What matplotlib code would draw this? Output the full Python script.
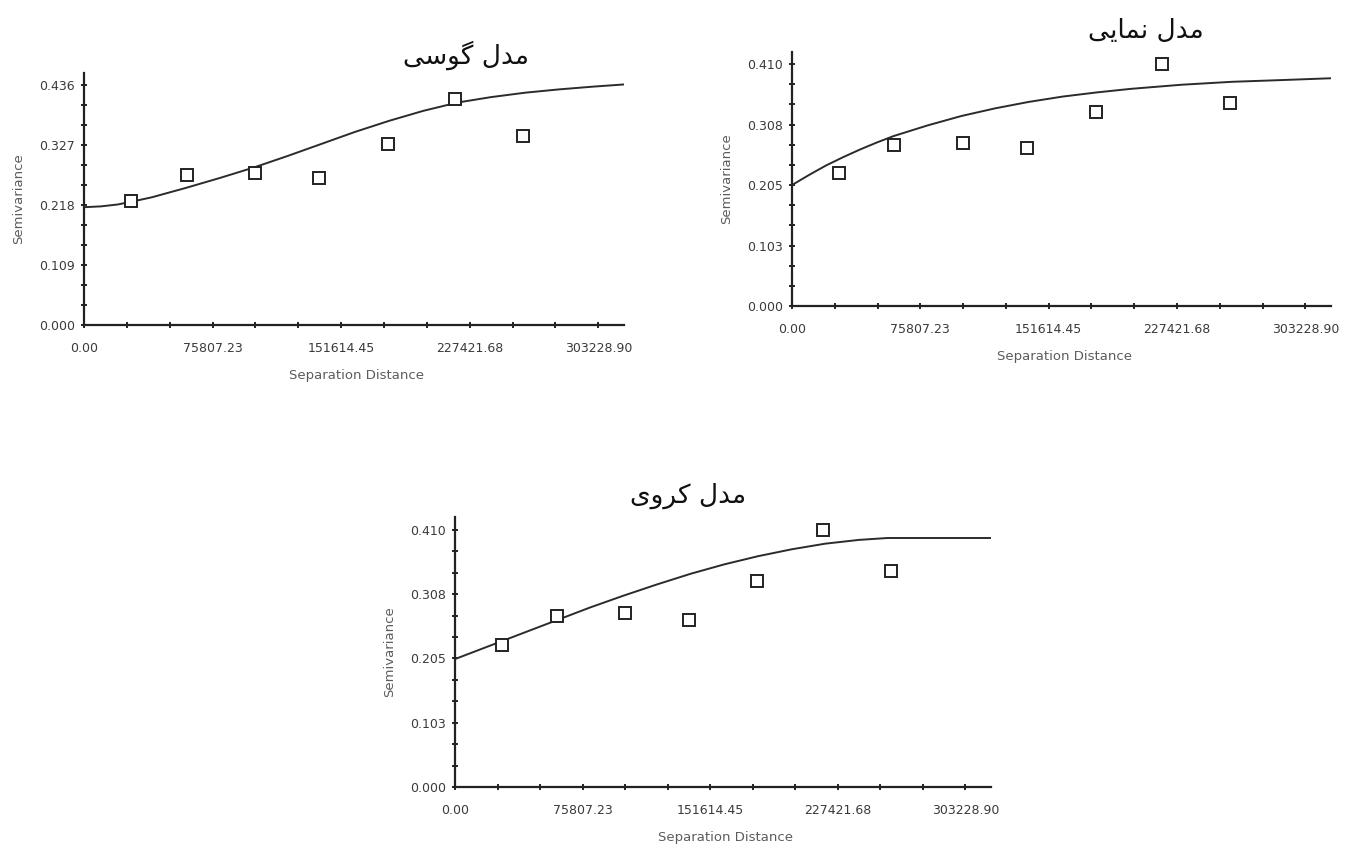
"""Semivariogram panels: gaussian, exponential and spherical model fits."""

import matplotlib
matplotlib.use("Agg")
import matplotlib.pyplot as plt
from matplotlib.ticker import FixedLocator

plt.rcParams["font.family"] = ["DejaVu Sans"]

# ---------------------------------------------------------------------------
# Data
# ---------------------------------------------------------------------------
# empirical semivariance (same lags in all three panels)
lag = [27800, 60500, 100800, 138800, 179500, 218500, 258800]
gamma = [0.226, 0.273, 0.277, 0.267, 0.329, 0.410, 0.344]

# fitted model curves, sampled along the x axis
gauss_x = [0, 10000, 20000, 30000, 40000, 50000, 60000, 80000, 100000, 120000,
           140000, 160000, 180000, 200000, 220000, 240000, 260000, 280000,
           300000, 318390]
gauss_y = [0.214, 0.2155, 0.219, 0.2253, 0.232, 0.2405, 0.249, 0.267, 0.286,
           0.307, 0.329, 0.351, 0.371, 0.389, 0.404, 0.414, 0.422, 0.428,
           0.433, 0.437]

exp_x = [0, 10000, 20000, 30000, 40000, 50000, 60000, 80000, 100000, 120000,
         140000, 160000, 180000, 200000, 230000, 260000, 290000, 318390]
exp_y = [0.205, 0.222, 0.238, 0.252, 0.265, 0.277, 0.288, 0.306, 0.322, 0.335,
         0.346, 0.355, 0.362, 0.368, 0.375, 0.380, 0.383, 0.386]

sph_x = [0, 20000, 40000, 60000, 80000, 100000, 120000, 140000, 160000,
         180000, 200000, 220000, 240000, 256900, 280000, 318390]
sph_y = [0.204, 0.2245, 0.245, 0.2655, 0.286, 0.305, 0.323, 0.340, 0.355,
         0.368, 0.379, 0.388, 0.394, 0.397, 0.397, 0.397]

# axis ticks
x_ticks = [0.00, 75807.23, 151614.45, 227421.68, 303228.90]
x_labels = ["0.00", "75807.23", "151614.45", "227421.68", "303228.90"]
y_ticks_gauss = [0.0, 0.109, 0.218, 0.327, 0.436]
y_labels_gauss = ["0.000", "0.109", "0.218", "0.327", "0.436"]
y_ticks_other = [0.0, 0.1025, 0.205, 0.3075, 0.410]
y_labels_other = ["0.000", "0.103", "0.205", "0.308", "0.410"]

# titles (Persian, pre-shaped presentation forms in visual order)
title_gauss = "\uFBFD\uFEB3\uFEEE\uFB94 \uFEDD\uFEAA\uFEE3"   # مدل گوسی
title_exp = "\uFBFD\uFBFE\uFE8E\uFEE4\uFEE7 \uFEDD\uFEAA\uFEE3"  # مدل نمایی
title_sph = "\uFBFC\uFEED\uFEAE\uFB90 \uFEDD\uFEAA\uFEE3"       # مدل کروی

LINE_COL = "#2b2b2b"
LABEL_COL = "#5c5c5c"
W, H = 1347.0, 848.0


def minor_between(ticks, n=2):
    out = []
    for a, b in zip(ticks[:-1], ticks[1:]):
        step = (b - a) / (n + 1)
        out += [a + step * k for k in range(1, n + 1)]
    return out


def draw_panel(fig, box, cx, cy, yticks, ylabels, title, title_xy):
    left, bottom, w, h = box  # pixels, bottom measured from top of figure
    ax = fig.add_axes([left / W, 1 - bottom / H, w / W, h / H])
    ax.plot(cx, cy, color=LINE_COL, lw=1.4, zorder=2)
    ax.plot(lag, gamma, linestyle="none", marker="s", markersize=8.5,
            markerfacecolor="white", markeredgecolor="#222222",
            markeredgewidth=1.4, zorder=3)

    ax.set_xlim(0, x_ticks[-1] * 1.05)
    ax.set_ylim(0, yticks[-1] * 1.05)
    ax.xaxis.set_major_locator(FixedLocator(x_ticks))
    ax.xaxis.set_minor_locator(FixedLocator(minor_between(x_ticks)))
    ax.yaxis.set_major_locator(FixedLocator(yticks))
    ax.yaxis.set_minor_locator(FixedLocator(minor_between(yticks)))
    ax.set_xticklabels(x_labels)
    ax.set_yticklabels(ylabels)

    for side in ("top", "right"):
        ax.spines[side].set_visible(False)
    for side in ("left", "bottom"):
        ax.spines[side].set_linewidth(1.6)
        ax.spines[side].set_color("#222222")
    ax.tick_params(which="both", direction="inout", length=5, width=1.4,
                   color="#222222", labelsize=9, labelcolor="#3a3a3a")
    ax.tick_params(axis="x", pad=10)
    ax.tick_params(axis="y", pad=4)
    ax.set_xlabel("Separation Distance", fontsize=9.5, color=LABEL_COL)
    ax.set_ylabel("Semivariance", fontsize=9.5, color=LABEL_COL)
    ax.xaxis.set_label_coords(0.505, -44 / h)
    ax.yaxis.set_label_coords(-59 / w, 0.5)

    fig.text(title_xy[0] / W, 1 - title_xy[1] / H, title, ha="center",
             va="center", fontsize=19, color="#111111")
    return ax


fig = plt.figure(figsize=(13.47, 8.48), dpi=100)

draw_panel(fig, (84, 325, 540, 252), gauss_x, gauss_y,
           y_ticks_gauss, y_labels_gauss, title_gauss, (466, 55))
draw_panel(fig, (792, 306, 539, 254), exp_x, exp_y,
           y_ticks_other, y_labels_other, title_exp, (1146, 31))
draw_panel(fig, (455, 787, 536, 270), sph_x, sph_y,
           y_ticks_other, y_labels_other, title_sph, (688, 496))

fig.savefig("out.png", dpi=100)
